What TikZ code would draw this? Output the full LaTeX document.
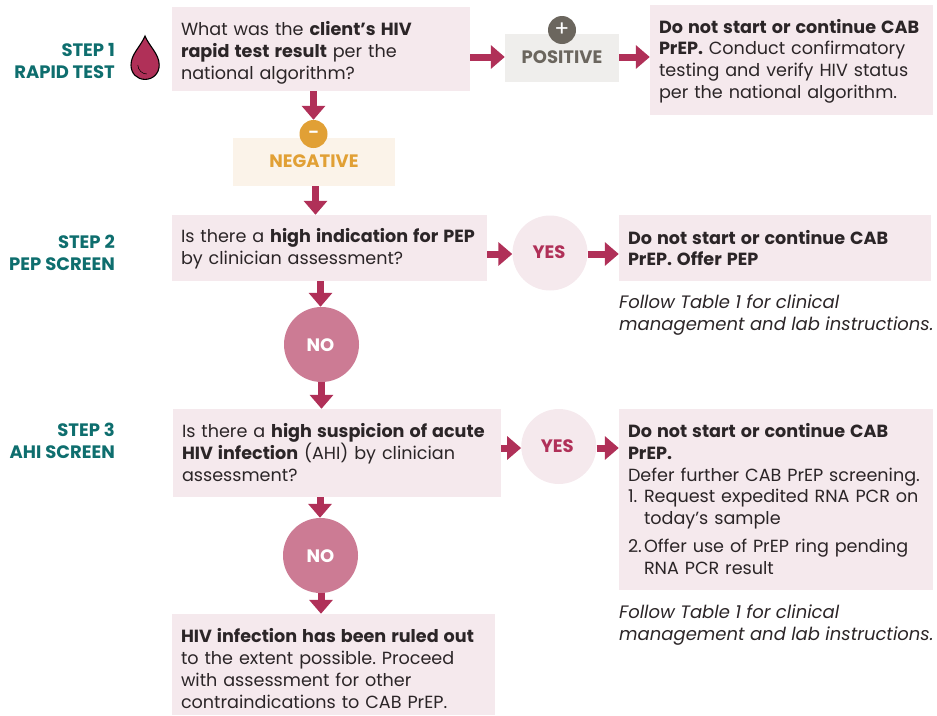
\documentclass[tikz,border=0pt]{standalone}
\usepackage{fontspec}
\setmainfont{Poppins}
\usetikzlibrary{arrows.meta}
\frenchspacing
\definecolor{pinkbox}{HTML}{F5E9ED}
\definecolor{arrowc}{HTML}{B03058}
\definecolor{noc}{HTML}{CC7B94}
\definecolor{teal}{HTML}{0E6E6E}
\definecolor{orangec}{HTML}{E1A035}
\definecolor{negbox}{HTML}{FBF3E9}
\definecolor{posbox}{HTML}{EFEEEC}
\definecolor{grayc}{HTML}{6B665E}
\definecolor{ink}{HTML}{2B2527}
\tikzset{
  txt/.style={font=\fontsize{17.6}{21.7}\selectfont, text=ink},
  box/.style={txt, fill=pinkbox, inner sep=0pt, minimum height=#1pt},
  tag/.style={fill=#1, inner sep=0pt, font=\fontsize{18}{18}\selectfont\bfseries},
  bigc/.style={circle, fill=#1, inner sep=0pt, minimum size=75pt, font=\fontsize{18}{18}\selectfont\bfseries},
  sign/.style={circle, fill=#1, inner sep=0pt, minimum size=28pt, text=white, font=\fontsize{22}{22}\selectfont},
  steplabel/.style={align=right, anchor=east, inner sep=0pt, text=teal, font=\fontsize{18}{21.7}\selectfont\bfseries},
  note/.style={txt, align=left, anchor=north west, inner sep=0pt, font=\fontsize{18}{21.7}\selectfont\itshape},
  arr/.style={draw=arrowc, line width=7pt, -{Triangle[length=14pt,width=23pt,fill=arrowc]}}
}
\newcommand{\tb}[1]{{\bfseries\spaceskip=5pt\relax #1}}
\newcommand{\nudge}[3]{\hspace*{#1pt}\raisebox{#2pt}[\height][\depth]{#3}}
\newcommand{\bx}[7]{\pgfmathsetlengthmacro{\bxw}{(#4-#2-18)*1pt}%
  \node[box=#5-#3, minimum width={(#4-#2)*1pt}] (#1) at ({(#2+#4)/2},{(#3+#5)/2})
    {\raisebox{#6pt}[\height][\depth]{\parbox[c]{\bxw}{\raggedright\spaceskip=5.9pt\relax #7}}};}
\begin{document}
\begin{tikzpicture}[x=1pt,y=-1pt]
\useasboundingbox (0,0) rectangle (937,715);
% boxes
\bx{qa}{172}{7}{470}{91}{-4}{What was the \tb{client’s HIV}\\ \tb{rapid test result} per the\\ national algorithm?}
\bx{ra}{650}{5}{933}{115}{-1}{\tb{Do not start or continue CAB}\\ \tb{PrEP.} Conduct confirmatory\\ testing and verify HIV status\\ per the national algorithm.}
\bx{qb}{172}{215}{487}{281}{-1}{Is there a \tb{high indication for PEP}\\ by clinician assessment?}
\bx{rb}{619}{215}{931}{281}{0}{\tb{Do not start or continue CAB}\\ \tb{PrEP. Offer PEP}}
\bx{qc}{173}{409}{501}{497}{0.5}{Is there a \tb{high suspicion of acute}\\ \tb{HIV infection} (AHI) by clinician\\ assessment?}
\bx{rc}{619}{409}{933}{590}{0.5}{\tb{Do not start or continue CAB}\\ \tb{PrEP.}\\ Defer further CAB PrEP screening.\\ \makebox[16pt][l]{1.}Request expedited RNA PCR on\\ \hspace*{16pt}today’s sample\\[6.5pt] \makebox[16pt][l]{2.}Offer use of PrEP ring pending\\ \hspace*{16pt}RNA PCR result}
\bx{rd}{172}{614}{495}{715}{-4}{\tb{HIV infection has been ruled out}\\ to the extent possible. Proceed\\ with assessment for other\\ contraindications to CAB PrEP.}
% tags
\node[tag=posbox, text=grayc, minimum width=114pt, minimum height=48pt] (pos) at (562,58) {\raisebox{1pt}[\height][\depth]{POSITIVE}};
\node[sign=grayc] (plus) at (562,30) {+};
\node[tag=negbox, text=orangec, minimum width=162pt, minimum height=48pt] (neg) at (314,162) {\raisebox{1pt}[\height][\depth]{NEGATIVE}};
\node[sign=orangec, font=\fontsize{15}{15}\selectfont\bfseries] (minus) at (313.5,134) {–};
% circles
\node[bigc=pinkbox, text=arrowc] (yesa) at (550,253) {\nudge{-2}{1}{YES}};
\node[bigc=noc, text=white] (noa) at (321.5,344.5) {\nudge{-2}{-1}{NO}};
\node[bigc=pinkbox, text=arrowc] (yesb) at (558.8,446.5) {\nudge{-3}{0}{YES}};
\node[bigc=noc, text=white] (nob) at (320.5,555.5) {\nudge{0}{-0.5}{NO}};
% step labels
\node[steplabel] (s1) at (115,61) {STEP 1\\RAPID TEST};
\node[steplabel] (s2) at (115,253) {STEP 2\\PEP SCREEN};
\node[steplabel] (s3) at (115,441) {STEP 3\\AHI SCREEN};
% notes
\node[note] (na) at (619,295) {Follow Table 1 for clinical\\management and lab instructions.};
\node[note] (nb) at (619,605) {Follow Table 1 for clinical\\management and lab instructions.};
% drop
\draw[draw=black, fill=arrowc, line width=1.1pt] (145,36) .. controls (141,46) and (131,54) .. (131,65) .. controls (131,73.5) and (137,79.4) .. (145,79.4) .. controls (153,79.4) and (159.2,73.5) .. (159.2,65) .. controls (159.2,54) and (149,46) .. (145,36) -- cycle;
\draw[black, line width=0.5pt] (137.8,65) .. controls (138,70) and (142,74) .. (146.8,74);
% connectors
\draw[arr] ([yshift=1pt]qa.east |- pos.west) -- ([yshift=1pt]pos.west);
\draw[arr] ([yshift=1pt]pos.east) -- ([yshift=1pt]ra.west |- pos.east);
\draw[arr] (minus |- qa.south) -- (minus.north);
\draw[arr] ([xshift=1.5pt]neg.south) -- ([xshift=1.5pt]neg.south |- qb.north);
\draw[arr] ([yshift=-1pt]qb.east |- yesa.west) -- ([yshift=-1pt]yesa.west);
\draw[arr] ([yshift=-1pt]yesa.east) -- ([yshift=-1pt]rb.west |- yesa.east);
\draw[arr] ([xshift=-1pt]noa |- qb.south) -- ([xshift=-1pt]noa.north);
\draw[arr] (noa.south) -- (noa.south |- qc.north);
\draw[arr] ([yshift=-1.5pt]qc.east |- yesb.west) -- ([yshift=-1.5pt]yesb.west);
\draw[arr] ([yshift=-1.5pt]yesb.east) -- ([yshift=-1.5pt]rc.west |- yesb.east);
\draw[arr] ([xshift=-0.5pt]nob |- qc.south) -- ([xshift=-0.5pt]nob.north);
\draw[arr] ([xshift=0.5pt]nob.south) -- ([xshift=0.5pt]nob.south |- rd.north);
\end{tikzpicture}
\end{document}
